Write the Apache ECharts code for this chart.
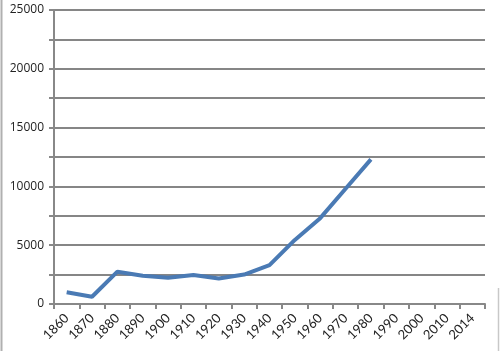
<!DOCTYPE html>
<html>
<head>
<meta charset="utf-8">
<script src="https://cdn.jsdelivr.net/npm/echarts@6/dist/echarts.min.js"></script>
<style>
  html, body { margin: 0; padding: 0; background: #fff; }
  #main { width: 500px; height: 351px; }
</style>
</head>
<body>
<div id="main"></div>
<script>
// years along the x axis
var years = ['1860', '1870', '1880', '1890', '1900', '1910', '1920', '1930', '1940',
             '1950', '1960', '1970', '1980', '1990', '2000', '2010', '2014'];
// values, nothing after 1980
var values = [1000, 620, 2750, 2400, 2240, 2460, 2170, 2500, 3300,
              5450, 7300, 9800, 12300, null, null, null, null];

var myChart = echarts.init(document.querySelector('#main'));
var option = {
    animation: false,
    grid: {
        left: 54,
        right: 15,
        top: 10,
        bottom: 47
    },
    graphic: [
        {
            type: 'line',
            shape: { x1: 1.5, y1: 0, x2: 1.5, y2: 351 },
            style: { stroke: '#b0b0b0', lineWidth: 2 }
        },
        {
            type: 'line',
            shape: { x1: 498.5, y1: 288, x2: 498.5, y2: 351 },
            style: { stroke: '#c8c8c8', lineWidth: 1.5 }
        }
    ],
    xAxis: {
        type: 'category',
        data: years,
        boundaryGap: true,
        axisLine: { lineStyle: { color: '#888', width: 2 } },
        axisTick: { show: true, length: 5, lineStyle: { color: '#888', width: 2 } },
        axisLabel: {
            rotate: 45,
            interval: 0,
            color: '#222',
            fontFamily: 'Lato',
            fontSize: 13,
            margin: 12
        }
    },
    yAxis: {
        type: 'value',
        min: 0,
        max: 25000,
        interval: 2500,
        axisLine: { show: true, lineStyle: { color: '#888', width: 2 } },
        axisTick: { show: true, length: 5, lineStyle: { color: '#888', width: 2 } },
        splitLine: { lineStyle: { color: '#868686', width: 2 } },
        axisLabel: {
            color: '#222',
            fontFamily: 'Open Sans',
            fontSize: 12,
            margin: 10,
            formatter: function (v) {
                return v % 5000 === 0 ? String(v) : '';
            }
        }
    },
    series: [
        {
            type: 'line',
            data: values,
            symbol: 'none',
            lineStyle: { color: '#4a7ab4', width: 4 },
            connectNulls: false
        }
    ]
};
myChart.setOption(option, true);
</script>
</body>
</html>
